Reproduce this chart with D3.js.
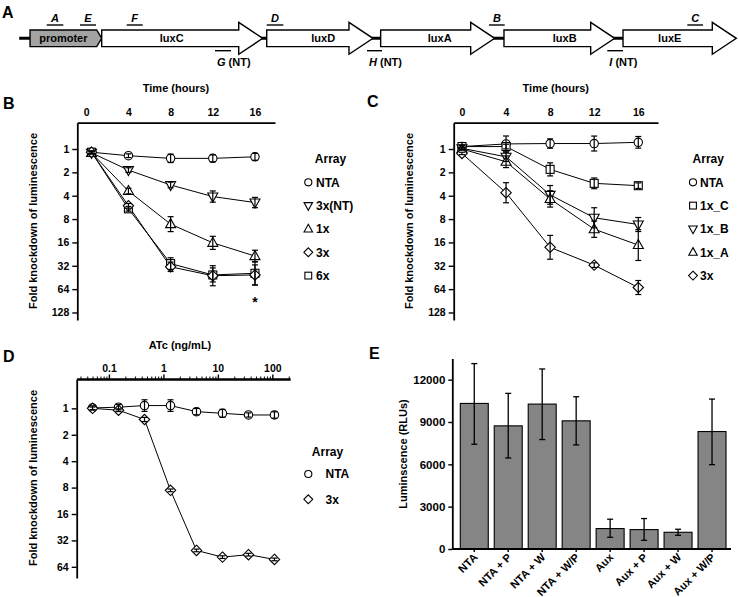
<!DOCTYPE html>
<html><head><meta charset="utf-8">
<script src="https://cdn.jsdelivr.net/npm/d3@7"></script>
<style>body{margin:0;background:#fff}svg{display:block}</style>
</head><body><svg id="c" width="738" height="597"></svg>
<script>
// ---------------- Panel A: operon map (map units, 0-100) ----------------
const geneNames   = ["promoter","luxC","luxD","luxA","luxB","luxE"];
const geneStart   = [4.07, 13.78, 36.14, 51.58, 68.29, 84.42];
const geneEnd     = [13.78, 35.6, 50.54, 67.03, 83.29, 99.77];
const geneLabelAt = [8.58, 23.27, 43.8, 59.58, 76.52, 90.75];
const backboneSpan = [2.6, 99];
const primerTopNames = ["A","E","F","D","B","C"];
const primerTopStart = [6.33, 10.84, 17.17, 36.14, 66.26, 93.13];
const primerTopEnd   = [8.58, 13.01, 19.34, 38.39, 68.39, 95.26];
const primerBotNames = ["G","H","I"];
const primerBotStart = [29.13, 49.73, 82.29];
const primerBotEnd   = [31.3, 51.76, 84.42];

// ---------------- Panel B ----------------
const timesB = [0.5, 4, 8, 12, 16];
const timeTicks = [0, 4, 8, 12, 16];
const foldTicks = [1, 2, 4, 8, 16, 32, 64, 128];
const namesB = ["NTA","3x(NT)","1x","3x","6x"];
const B_NTA   = [1.1, 1.22, 1.32, 1.32, 1.26];
const B_3xNT  = [1.12, 1.87, 2.91, 4.1, 4.9];
const B_1x    = [1.12, 3.48, 9.3, 16.2, 24];
const B_3x    = [1.1, 5.4, 33, 43, 42];
const B_6x    = [1.1, 5.9, 30, 42, 40];
const B_NTA_err  = [0.05, 0.08, 0.18, 0.15, 0.15];
const B_3xNT_err = [0.05, 0.1, 0.12, 0.24, 0.22];
const B_1x_err   = [0.05, 0.12, 0.32, 0.28, 0.25];
const B_3x_err   = [0.05, 0.1, 0.2, 0.43, 0.43];
const B_6x_err   = [0.05, 0.1, 0.25, 0.3, 0.5];
const B_starAt = [16, 85.8];

// ---------------- Panel C ----------------
const timesC = [0, 4, 8, 12, 16];
const namesC = ["NTA","1x_C","1x_B","1x_A","3x"];
const C_NTA = [0.93, 0.86, 0.85, 0.85, 0.82];
const C_1xC = [0.93, 0.93, 1.83, 2.77, 2.97];
const C_1xB = [0.98, 1.26, 3.9, 7.7, 9.4];
const C_1xA = [1.0, 1.46, 4.4, 10.8, 17.3];
const C_3x  = [1.14, 3.66, 18.5, 31.4, 61];
const C_NTA_err = [0.05, 0.34, 0.2, 0.32, 0.25];
const C_1xC_err = [0.05, 0.1, 0.28, 0.23, 0.12];
const C_1xB_err = [0.05, 0.2, 0.4, 0.43, 0.3];
const C_1xA_err = [0.05, 0.25, 0.35, 0.35, 0.66];
const C_3x_err  = [0.05, 0.43, 0.51, 0.1, 0.3];

// ---------------- Panel D ----------------
const concD = [0.05, 0.15, 0.45, 1.35, 4.05, 12.15, 36.45, 109.35];
const concMajor = [0.1, 1, 10, 100];
const foldTicksD = [1, 2, 4, 8, 16, 32, 64];
const namesD = ["NTA","3x"];
const D_NTA = [0.99, 0.97, 0.93, 0.93, 1.09, 1.14, 1.19, 1.19];
const D_3x  = [1.0, 1.05, 1.34, 8.6, 41.6, 49.6, 46.5, 52.7];
const D_NTA_err = [0.08, 0.1, 0.22, 0.22, 0.12, 0.15, 0.08, 0.12];
const D_3x_err  = [0.05, 0.05, 0.08, 0.05, 0.05, 0.05, 0.05, 0.05];

// ---------------- Panel E ----------------
const catsE  = ["NTA","NTA + P","NTA + W","NTA + W/P","Aux","Aux + P","Aux + W","Aux + W/P"];
const valsE  = [10316, 8727, 10269, 9083, 1447, 1375, 1186, 8324];
const errHiE = [13138, 11028, 12759, 10790, 2111, 2158, 1399, 10625];
const errLoE = [7423, 6451, 7755, 7375, 830, 617, 972, 5976];
const ticksE = [0, 3000, 6000, 9000, 12000];

// =====================================================================
const FONT = "'Liberation Sans', Arial, Helvetica, sans-serif";
const svg = d3.select("#c").attr("font-family", FONT);

function panelLetter(t, x, y) {
  svg.append("text").attr("x", x).attr("y", y).attr("font-size", 16)
    .attr("font-weight", "bold").text(t);
}
panelLetter("A", 2, 18);
panelLetter("B", 3, 109);
panelLetter("C", 367, 107);
panelLetter("D", 3, 362);
panelLetter("E", 369, 359);

// ---------- Panel A drawing ----------
(function () {
  const xA = d3.scaleLinear().domain([0, 100]).range([0, 738]);
  const cy = 38.3, bodyH = 8.3, headH = 16, head = 24, promHead = 5;
  const g = svg.append("g");
  g.append("line").attr("x1", xA(backboneSpan[0])).attr("x2", xA(backboneSpan[1]))
    .attr("y1", cy).attr("y2", cy).attr("stroke", "#000").attr("stroke-width", 3);
  geneNames.forEach((n, i) => {
    const x0 = xA(geneStart[i]), x1 = xA(geneEnd[i]);
    const p = d3.path();
    if (i === 0) {
      const xb = x1 - promHead;
      p.moveTo(x0, cy - bodyH); p.lineTo(xb, cy - bodyH); p.lineTo(x1, cy);
      p.lineTo(xb, cy + bodyH); p.lineTo(x0, cy + bodyH); p.closePath();
    } else {
      const xb = x1 - head;
      p.moveTo(x0, cy - bodyH); p.lineTo(xb, cy - bodyH); p.lineTo(xb, cy - headH);
      p.lineTo(x1, cy); p.lineTo(xb, cy + headH); p.lineTo(xb, cy + bodyH);
      p.lineTo(x0, cy + bodyH); p.closePath();
    }
    g.append("path").attr("d", p.toString())
      .attr("fill", i === 0 ? "#a3a3a3" : "#fff").attr("stroke", "#000")
      .attr("stroke-width", 1.4).attr("stroke-linejoin", "miter");
    g.append("text").attr("x", xA(geneLabelAt[i])).attr("y", cy + 4)
      .attr("text-anchor", "middle").attr("font-size", 11).attr("font-weight", "bold").text(n);
  });
  primerTopNames.forEach((n, i) => {
    const a = xA(primerTopStart[i]), b = xA(primerTopEnd[i]);
    g.append("line").attr("x1", a).attr("x2", b).attr("y1", 25).attr("y2", 25)
      .attr("stroke", "#000").attr("stroke-width", 1.4);
    g.append("text").attr("x", (a + b) / 2).attr("y", 22).attr("text-anchor", "middle")
      .attr("font-size", 11).attr("font-weight", "bold").attr("font-style", "italic").text(n);
  });
  primerBotNames.forEach((n, i) => {
    const a = xA(primerBotStart[i]), b = xA(primerBotEnd[i]);
    g.append("line").attr("x1", a).attr("x2", b).attr("y1", 50.7).attr("y2", 50.7)
      .attr("stroke", "#000").attr("stroke-width", 1.4);
    const t = g.append("text").attr("x", a + 2).attr("y", 65.5)
      .attr("font-size", 11).attr("font-weight", "bold");
    t.append("tspan").attr("font-style", "italic").text(n);
    t.append("tspan").text(" (NT)");
  });
})();

// ---------- helpers ----------
function marker(g, type, x, y, k) {
  k = k || 1;
  const st = s => s.attr("fill", "#fff").attr("stroke", "#000").attr("stroke-width", 1.1);
  if (type === "circle") { st(g.append("circle").attr("cx", x).attr("cy", y).attr("r", 4.2 * k)); return; }
  if (type === "square") { st(g.append("rect").attr("x", x - 4 * k).attr("y", y - 4 * k).attr("width", 8 * k).attr("height", 8 * k)); return; }
  const p = d3.path();
  if (type === "triUp") { p.moveTo(x, y - 5.5 * k); p.lineTo(x + 5 * k, y + 3.5 * k); p.lineTo(x - 5 * k, y + 3.5 * k); }
  if (type === "triDown") { p.moveTo(x, y + 5.5 * k); p.lineTo(x + 5 * k, y - 3.5 * k); p.lineTo(x - 5 * k, y - 3.5 * k); }
  if (type === "diamond") { p.moveTo(x, y - 5.2 * k); p.lineTo(x + 5.2 * k, y); p.lineTo(x, y + 5.2 * k); p.lineTo(x - 5.2 * k, y); }
  p.closePath();
  st(g.append("path").attr("d", p.toString()));
}

function styleAxis(sel, fs) {
  sel.selectAll(".domain").attr("stroke", "#000").attr("stroke-width", 1.8);
  sel.selectAll(".tick line").attr("stroke", "#000").attr("stroke-width", 1.4);
  sel.selectAll("text").attr("font-family", FONT).attr("font-weight", "bold")
    .attr("font-size", fs).attr("fill", "#000");
}

function drawSeries(g, xs, series, x, y) {
  series.forEach(s => {
    g.append("path").datum(s.vals.map((v, i) => [xs[i], v]))
      .attr("d", d3.line().x(d => x(d[0])).y(d => y(d[1])))
      .attr("fill", "none").attr("stroke", "#000").attr("stroke-width", 1);
  });
  series.forEach(s => s.vals.forEach((v, i) => marker(g, s.sym, x(xs[i]), y(v))));
  series.forEach(s => s.vals.forEach((v, i) => {
    const e = s.errs[i];
    const cx = x(xs[i]), y1 = y(v * Math.pow(2, -e)), y2 = y(v * Math.pow(2, e));
    const eg = g.append("g").attr("stroke", "#000").attr("stroke-width", 1.2);
    eg.append("line").attr("x1", cx).attr("x2", cx).attr("y1", y1).attr("y2", y2);
    eg.append("line").attr("x1", cx - 3).attr("x2", cx + 3).attr("y1", y1).attr("y2", y1);
    eg.append("line").attr("x1", cx - 3).attr("x2", cx + 3).attr("y1", y2).attr("y2", y2);
  }));
}

function legend(title, names, syms, titleX, mx, tx, ty, ys) {
  const g = svg.append("g");
  g.append("text").attr("x", titleX).attr("y", ty + 4).attr("text-anchor", "middle")
    .attr("font-size", 12).attr("font-weight", "bold").text(title);
  names.forEach((n, i) => {
    marker(g, syms[i], mx, ys[i], 0.85);
    g.append("text").attr("x", tx).attr("y", ys[i] + 4.2).attr("font-size", 12)
      .attr("font-weight", "bold").text(n);
  });
}

function yTitle(t, x, y) {
  svg.append("text").attr("transform", `translate(${x},${y}) rotate(-90)`)
    .attr("text-anchor", "middle").attr("font-size", 11).attr("font-weight", "bold").text(t);
}
function xTitle(t, x, y) {
  svg.append("text").attr("x", x).attr("y", y).attr("text-anchor", "middle")
    .attr("font-size", 11).attr("font-weight", "bold").text(t);
}

// ---------- Panel B ----------
(function () {
  const x = d3.scaleLinear().domain([-0.85, 17.9]).range([77.3, 275]);
  const y = d3.scaleLog().base(2).domain([0.458, 160]).range([122.7, 320]);
  const g = svg.append("g");
  styleAxis(g.append("g").attr("transform", `translate(0,${y.range()[0]})`)
    .call(d3.axisTop(x).tickValues(timeTicks).tickSize(0).tickPadding(7).tickSizeOuter(0)), 10.5);
  styleAxis(g.append("g").attr("transform", `translate(${x.range()[0]},0)`)
    .call(d3.axisLeft(y).tickValues(foldTicks).tickFormat(d3.format("d")).tickSize(5).tickPadding(3).tickSizeOuter(0)), 10.5);
  xTitle("Time (hours)", 176, 92);
  yTitle("Fold knockdown of luminescence", 37, 221);
  const syms = ["circle","triDown","triUp","diamond","square"];
  drawSeries(g, timesB, [
    {vals: B_NTA, errs: B_NTA_err, sym: syms[0]},
    {vals: B_3xNT, errs: B_3xNT_err, sym: syms[1]},
    {vals: B_1x, errs: B_1x_err, sym: syms[2]},
    {vals: B_6x, errs: B_6x_err, sym: syms[4]},
    {vals: B_3x, errs: B_3x_err, sym: syms[3]}
  ], x, y);
  g.append("text").attr("x", x(B_starAt[0])).attr("y", y(B_starAt[1]) + 8)
    .attr("text-anchor", "middle").attr("font-size", 14).attr("font-weight", "bold").text("*");
  legend("Array", namesB, syms, 330.5, 308.3, 316, 159, [182.3, 205.6, 229, 252.3, 275.6]);
})();

// ---------- Panel C ----------
(function () {
  const x = d3.scaleLinear().domain([-0.75, 17.79]).range([453.7, 658]);
  const y = d3.scaleLog().base(2).domain([0.458, 160]).range([122.7, 320]);
  const g = svg.append("g");
  styleAxis(g.append("g").attr("transform", `translate(0,${y.range()[0]})`)
    .call(d3.axisTop(x).tickValues(timeTicks).tickSize(0).tickPadding(7).tickSizeOuter(0)), 10.5);
  styleAxis(g.append("g").attr("transform", `translate(${x.range()[0]},0)`)
    .call(d3.axisLeft(y).tickValues(foldTicks).tickFormat(d3.format("d")).tickSize(5).tickPadding(3).tickSizeOuter(0)), 10.5);
  xTitle("Time (hours)", 555.8, 92);
  yTitle("Fold knockdown of luminescence", 413, 221);
  const syms = ["circle","square","triDown","triUp","diamond"];
  drawSeries(g, timesC, [
    {vals: C_NTA, errs: C_NTA_err, sym: syms[0]},
    {vals: C_1xC, errs: C_1xC_err, sym: syms[1]},
    {vals: C_1xB, errs: C_1xB_err, sym: syms[2]},
    {vals: C_1xA, errs: C_1xA_err, sym: syms[3]},
    {vals: C_3x, errs: C_3x_err, sym: syms[4]}
  ], x, y);
  legend("Array", namesC, syms, 708.3, 693, 700, 159, [182.3, 205.6, 229, 252.3, 275.6]);
})();

// ---------- Panel D ----------
(function () {
  const x = d3.scaleLog().domain([0.0256, 211]).range([76.7, 290]);
  const y = d3.scaleLog().base(2).domain([0.463, 85.8]).range([379, 578]);
  const g = svg.append("g");
  const minor = x.ticks().filter(v => !concMajor.some(m => Math.abs(m - v) < 1e-9));
  const ax1 = g.append("g").attr("transform", `translate(0,${y.range()[0]})`)
    .call(d3.axisTop(x).tickValues(minor).tickSize(2.5).tickFormat("").tickSizeOuter(0));
  styleAxis(ax1, 10.5);
  const ax2 = g.append("g").attr("transform", `translate(0,${y.range()[0]})`)
    .call(d3.axisTop(x).tickValues(concMajor).tickSize(4.5).tickPadding(3).tickSizeOuter(0)
      .tickFormat(d => d < 1 ? d3.format(".1f")(d) : d3.format("d")(d)));
  styleAxis(ax2, 10.5);
  ax1.selectAll(".tick line").attr("stroke-width", 1);
  styleAxis(g.append("g").attr("transform", `translate(${x.range()[0]},0)`)
    .call(d3.axisLeft(y).tickValues(foldTicksD).tickFormat(d3.format("d")).tickSize(5).tickPadding(3).tickSizeOuter(0)), 10.5);
  xTitle("ATc (ng/mL)", 180, 349);
  yTitle("Fold knockdown of luminescence", 37, 478);
  const syms = ["circle","diamond"];
  drawSeries(g, concD, [
    {vals: D_NTA, errs: D_NTA_err, sym: syms[0]},
    {vals: D_3x, errs: D_3x_err, sym: syms[1]}
  ], x, y);
  legend("Array", namesD, syms, 327.5, 308.3, 325.5, 451.7, [474, 499.3]);
})();

// ---------- Panel E ----------
(function () {
  const x = d3.scaleBand().domain(catsE).range([452.3, 734]).paddingInner(0.176).paddingOuter(0.235);
  const y = d3.scaleLinear().domain([0, 13500]).range([549, 358.5]);
  const g = svg.append("g");
  g.selectAll("rect.bar").data(catsE).join("rect").attr("class", "bar")
    .attr("x", d => x(d)).attr("width", x.bandwidth())
    .attr("y", (d, i) => y(valsE[i])).attr("height", (d, i) => y(0) - y(valsE[i]))
    .attr("fill", "#858585").attr("stroke", "#000").attr("stroke-width", 1.1);
  catsE.forEach((c, i) => {
    const cx = x(c) + x.bandwidth() / 2, y1 = y(errLoE[i]), y2 = y(errHiE[i]);
    const eg = g.append("g").attr("stroke", "#000").attr("stroke-width", 1.3);
    eg.append("line").attr("x1", cx).attr("x2", cx).attr("y1", y1).attr("y2", y2);
    eg.append("line").attr("x1", cx - 3).attr("x2", cx + 3).attr("y1", y1).attr("y2", y1);
    eg.append("line").attr("x1", cx - 3).attr("x2", cx + 3).attr("y1", y2).attr("y2", y2);
  });
  styleAxis(g.append("g").attr("transform", `translate(${x.range()[0]},0)`)
    .call(d3.axisLeft(y).tickValues(ticksE).tickFormat(d3.format("d")).tickSize(4).tickPadding(3).tickSizeOuter(0)), 11.5);
  const xa = g.append("g").attr("transform", `translate(0,${y(0)})`)
    .call(d3.axisBottom(x).tickSize(3).tickSizeOuter(0).tickFormat(""));
  xa.select(".domain").attr("d", `M${x.range()[0]},0H731`);
  styleAxis(xa, 10);
  catsE.forEach(c => {
    const cx = x(c) + x.bandwidth() / 2;
    g.append("text").attr("transform", `translate(${cx + 4},${y(0) + 9}) rotate(-45)`)
      .attr("text-anchor", "end").attr("font-size", 11).attr("font-weight", "bold").text(c);
  });
  yTitle("Luminscence (RLUs)", 407, 454);
})();
</script>
</body></html>
